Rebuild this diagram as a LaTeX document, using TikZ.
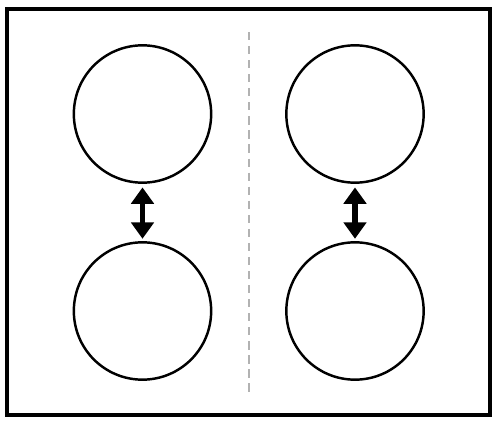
\documentclass[tikz,border=0pt]{standalone}
\usepackage{tikz}
\usetikzlibrary{arrows.meta}

\begin{document}
\begin{tikzpicture}[x=0.03cm,y=-0.03cm,
    ball/.style={circle,draw,line width=2.1pt,minimum size=4.12cm,inner sep=0pt},
    swap/.style={line width=5pt,{Triangle[width=19pt,length=14pt]}-{Triangle[width=19pt,length=14pt]},shorten <=3pt,shorten >=2pt}]
     \useasboundingbox (0,0) rectangle (495,421);

     \draw[line width=3.4pt] (7,9) rectangle (490,415);
     \draw[gray!60,line width=0.9pt,dash pattern=on 7pt off 5pt] (249,32) -- (249,394);

     \path (142.5,114) node[ball] (la) {};
     \path (142.5,311) node[ball] (lb) {};
     \path (355,114) node[ball] (ra) {};
     \path (355,311) node[ball] (rb) {};

     \draw[swap] (la) -- (lb);
     \draw[swap] (ra) -- (rb);

   \end{tikzpicture}
\end{document}
